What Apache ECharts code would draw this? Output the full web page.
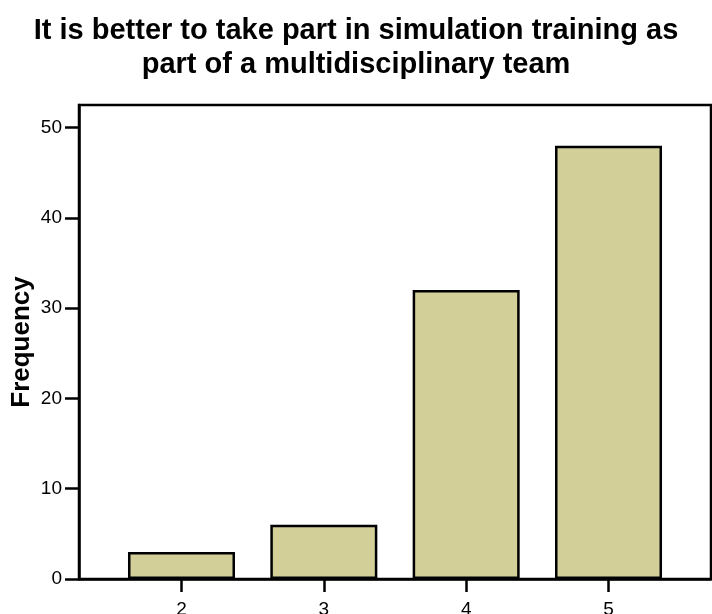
<!DOCTYPE html>
<html>
<head>
<meta charset="utf-8">
<script src="https://cdn.jsdelivr.net/npm/echarts@6/dist/echarts.min.js"></script>
<style>
 html, body { margin: 0; padding: 0; background: #fff; }
 #chart { width: 712px; height: 614px; }
</style>
</head>
<body>
<div id="chart"></div>
<script>
// Response categories (Likert scale) and frequencies
const categories = [2, 3, 4, 5];
const frequencies = [3, 6, 32, 48];
const yTicks = [0, 10, 20, 30, 40, 50];
const titleText = 'It is better to take part in simulation training as\npart of a multidisciplinary team';

const chart = echarts.init(document.getElementById('chart'), null, { renderer: 'canvas' });

const option = {
 backgroundColor: '#ffffff',
 animation: false,
 title: {
 text: titleText,
 left: 'center',
 top: 9,
 textStyle: {
 fontFamily: 'Liberation Sans, Arial, sans-serif',
 fontSize: 29,
 fontWeight: 'bold',
 color: '#000',
 lineHeight: 34,
 },
 },
 grid: {
 left: 79,
 right: 1,
 top: 105,
 bottom: 35,
 containLabel: false,
 outerBoundsMode: 'none',
 show: true,
 borderColor: '#000',
 borderWidth: 2.5,
 backgroundColor: 'transparent',
 },
 xAxis: {
 type: 'value',
 min: 1.28,
 max: 5.72,
 splitLine: { show: false },
 axisLine: { show: true, onZero: false, lineStyle: { color: '#000', width: 2.5 } },
 axisTick: { show: true, inside: false, length: 13, lineStyle: { color: '#000', width: 2.5 }, customValues: categories },
 axisLabel: {
 customValues: categories,
 margin: 21,
 color: '#000',
 fontSize: 19,
 fontFamily: 'Liberation Sans, Arial, sans-serif',
 },
 },
 yAxis: {
 type: 'value',
 min: 0,
 max: 52.5,
 name: 'Frequency',
 nameLocation: 'middle',
 nameGap: 44,
 nameMoveOverlap: false,
 nameTextStyle: {
 fontFamily: 'Liberation Sans, Arial, sans-serif',
 fontSize: 26,
 fontWeight: 'bold',
 color: '#000',
 },
 splitLine: { show: false },
 axisLine: { show: true, lineStyle: { color: '#000', width: 2.5 } },
 axisTick: { show: true, length: 14, lineStyle: { color: '#000', width: 2.5 }, customValues: yTicks },
 axisLabel: {
 customValues: yTicks,
 margin: 17,
 color: '#000',
 fontSize: 19,
 fontFamily: 'Liberation Sans, Arial, sans-serif',
 },
 },
 series: [{
 type: 'bar',
 data: categories.map((c, i) => [c, frequencies[i]]),
 barWidth: 107,
 itemStyle: { color: '#d3cf99', borderColor: '#000', borderWidth: 2.5 },
 }],
};

chart.setOption(option);
</script>
</body>
</html>
